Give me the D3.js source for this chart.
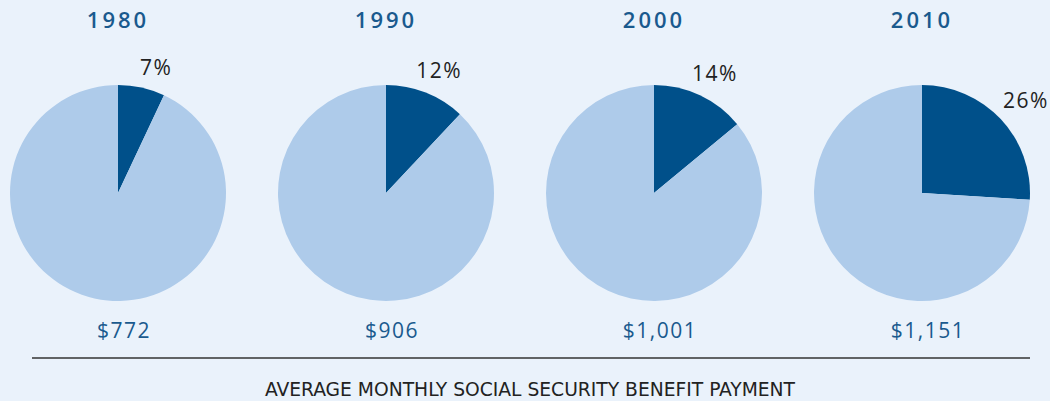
<!DOCTYPE html>
<html><head><meta charset="utf-8">
<script src="https://cdn.jsdelivr.net/npm/d3@7"></script>
<style>html,body{margin:0;padding:0;background:#eaf2fb;}</style>
</head><body>
<svg id="c" width="1050" height="401"></svg>
<script>
const years = ["1980","1990","2000","2010"];
const shares = [7, 12, 14, 26];
const payments = ["$772","$906","$1,001","$1,151"];
const subtitle = "AVERAGE MONTHLY SOCIAL SECURITY BENEFIT PAYMENT";

const svg = d3.select("#c");
svg.append("rect").attr("width",1050).attr("height",401).attr("fill","#eaf2fb");
const x = d3.scalePoint().domain(years).range([118, 922]);
const r = 108, cy = 193;
const arc = d3.arc().innerRadius(0).outerRadius(r);
const pie = d3.pie().sort(null).value(d=>d);

years.forEach((y,i)=>{
  const g = svg.append("g").attr("transform",`translate(${x(y)},${cy})`);
  const arcs = pie([shares[i], 100-shares[i]]);
  g.selectAll("path").data(arcs).join("path")
    .attr("d", arc).attr("fill",(d,j)=> j===0 ? "#00508a" : "#aecbea");
  const a = arcs[0];
  const mid = (a.startAngle + a.endAngle)/2;
  const ang = Math.max(mid + 0.04, 0.30);
  const lr = 126 + mid*14;
  g.append("text").attr("x", Math.sin(ang)*lr).attr("y", -Math.cos(ang)*lr + 5)
    .attr("text-anchor","middle").attr("font-family","Open Sans, sans-serif").attr("font-size",21)
    .attr("letter-spacing",1.5).attr("fill","#222").text(shares[i]+"%");
  svg.append("text").attr("x", x(y)).attr("y", 28).attr("text-anchor","middle")
    .attr("font-family","Open Sans, sans-serif").attr("font-size",22).attr("font-weight",600).attr("letter-spacing",3)
    .attr("fill","#1a5a8e").text(y);
  svg.append("text").attr("x", x(y)+6).attr("y", 338).attr("text-anchor","middle")
    .attr("font-family","Open Sans, sans-serif").attr("font-size",21).attr("letter-spacing",1.5)
    .attr("fill","#1a5a8e").text(payments[i]);
});

svg.append("line").attr("x1",32).attr("x2",1030).attr("y1",358).attr("y2",358)
  .attr("stroke","#333").attr("stroke-width",1.5);
svg.append("text").attr("x",530).attr("y",396).attr("text-anchor","middle")
  .attr("font-family","DejaVu Sans Condensed, Liberation Sans Narrow, sans-serif").attr("font-size",20)
  .attr("textLength",530).attr("lengthAdjust","spacingAndGlyphs")
  .attr("fill","#222").text(subtitle);
</script>
</body></html>
